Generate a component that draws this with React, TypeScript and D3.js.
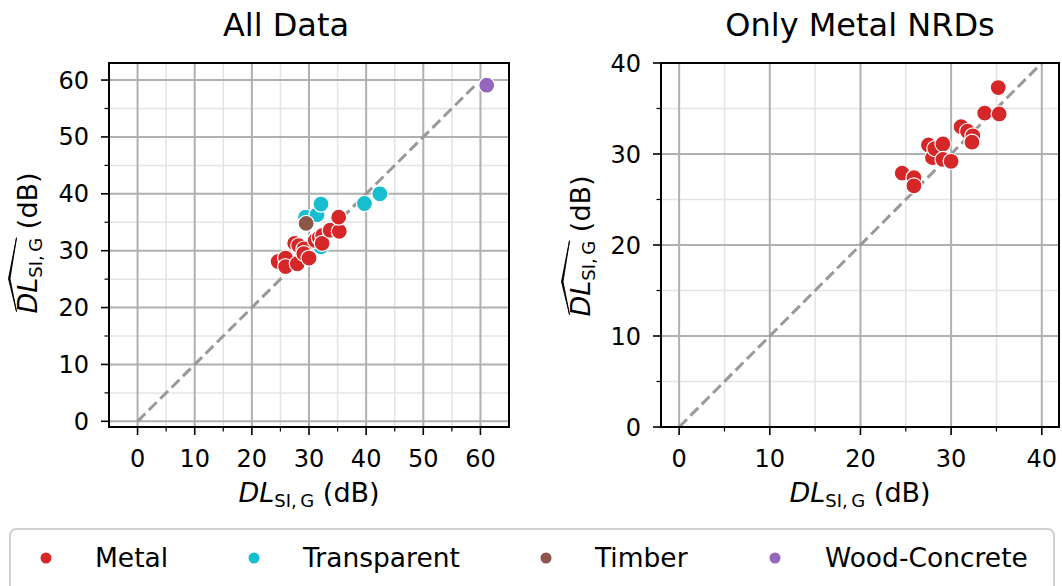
import React, { useEffect, useRef } from 'react';
import * as d3 from 'd3';

// measured values (x axis), shared by both panels
const metalMeasured = [24.6, 25.9, 25.9, 27.5, 27.95, 28.2, 29.1, 29.1, 30.0, 31.1, 31.8, 32.4, 32.3, 33.7, 35.3, 35.2];
// predictions of the model trained on all data
const metalPredAll = [28.1, 28.7, 27.2, 31.3, 27.7, 30.9, 30.3, 29.5, 28.7, 31.8, 32.3, 32.7, 31.3, 33.6, 33.4, 35.9];
// predictions of the model trained on metal only
const metalPredMetal = [27.9, 27.4, 26.5, 31.0, 29.6, 30.6, 31.1, 29.4, 29.2, 33.0, 32.5, 32.0, 31.3, 34.5, 34.4, 37.3];

const transparentMeasured = [29.4, 31.4, 32.1, 32.1, 39.7, 42.4];
const transparentPred = [35.9, 36.3, 38.2, 30.7, 38.3, 40.0];

const timberMeasured = [29.5];
const timberPred = [34.8];

const woodMeasured = [61.1];
const woodPred = [59.1];

const legendLabels = ['Metal', 'Transparent', 'Timber', 'Wood-Concrete'];
const allTicks = [0, 10, 20, 30, 40, 50, 60];
const allMinor = [5, 15, 25, 35, 45, 55];
const metalTicks = [0, 10, 20, 30, 40];
const metalMinor = [5, 15, 25, 35];

const COLORS = {
    Metal: '#d62728',
    Transparent: '#17becf',
    Timber: '#8c564b',
    'Wood-Concrete': '#9467bd',
};

const FONT = 'DejaVu Sans, sans-serif';
const LABEL_SIZE = 27;
const SUB_SIZE = 18;

function zip(xs, ys)
{
    return xs.map((v, i) => [v, ys[i]]);
}

function labelText(parent)
{
    const t = parent.append('text')
        .attr('text-anchor', 'middle')
        .attr('font-family', FONT).attr('font-size', LABEL_SIZE);
    t.append('tspan').attr('font-style', 'italic').text('DL');
    t.append('tspan').attr('font-size', SUB_SIZE).attr('dy', 5).text('SI,\u2009G');
    t.append('tspan').attr('dy', -5).text('\u00a0(dB)');
    return t;
}

function drawPanel(svg, p)
{
    const x = d3.scaleLinear().domain(p.xDomain).range([p.left, p.right]);
    const y = d3.scaleLinear().domain(p.yDomain).range([p.bottom, p.top]);
    const g = svg.append('g');

    // minor grid
    g.selectAll('.mgx').data(p.minor).join('line')
        .attr('x1', (d) => x(d)).attr('x2', (d) => x(d))
        .attr('y1', p.top).attr('y2', p.bottom)
        .attr('stroke', '#e4e4e4').attr('stroke-width', 1.5);
    g.selectAll('.mgy').data(p.minor).join('line')
        .attr('y1', (d) => y(d)).attr('y2', (d) => y(d))
        .attr('x1', p.left).attr('x2', p.right)
        .attr('stroke', '#e4e4e4').attr('stroke-width', 1.5);
    // major grid
    g.selectAll('.gx').data(p.ticks).join('line')
        .attr('x1', (d) => x(d)).attr('x2', (d) => x(d))
        .attr('y1', p.top).attr('y2', p.bottom)
        .attr('stroke', '#b0b0b0').attr('stroke-width', 2);
    g.selectAll('.gy').data(p.ticks).join('line')
        .attr('y1', (d) => y(d)).attr('y2', (d) => y(d))
        .attr('x1', p.left).attr('x2', p.right)
        .attr('stroke', '#b0b0b0').attr('stroke-width', 2);

    // identity line
    g.append('line')
        .attr('x1', x(0)).attr('y1', y(0))
        .attr('x2', x(p.lineEnd)).attr('y2', y(p.lineEnd))
        .attr('stroke', '#999999').attr('stroke-width', 3)
        .attr('stroke-dasharray', '11 5');

    // points
    p.groups.forEach((grp) =>
    {
        g.selectAll(null).data(grp.points).join('circle')
            .attr('cx', (d) => x(d[0]))
            .attr('cy', (d) => y(d[1]))
            .attr('r', 8)
            .attr('fill', COLORS[grp.name])
            .attr('stroke', 'white')
            .attr('stroke-width', 1.2);
    });

    // frame
    g.append('rect')
        .attr('x', p.left).attr('y', p.top)
        .attr('width', p.right - p.left).attr('height', p.bottom - p.top)
        .attr('fill', 'none').attr('stroke', 'black').attr('stroke-width', 2);

    // ticks
    g.selectAll('.tx').data(p.ticks).join('line')
        .attr('x1', (d) => x(d)).attr('x2', (d) => x(d))
        .attr('y1', p.bottom).attr('y2', p.bottom + 8)
        .attr('stroke', 'black').attr('stroke-width', 1.6);
    g.selectAll('.mtx').data(p.minor).join('line')
        .attr('x1', (d) => x(d)).attr('x2', (d) => x(d))
        .attr('y1', p.bottom).attr('y2', p.bottom + 4.5)
        .attr('stroke', 'black').attr('stroke-width', 1.2);
    g.selectAll('.ty').data(p.ticks).join('line')
        .attr('y1', (d) => y(d)).attr('y2', (d) => y(d))
        .attr('x1', p.left - 8).attr('x2', p.left)
        .attr('stroke', 'black').attr('stroke-width', 1.6);
    g.selectAll('.mty').data(p.minor).join('line')
        .attr('y1', (d) => y(d)).attr('y2', (d) => y(d))
        .attr('x1', p.left - 4.5).attr('x2', p.left)
        .attr('stroke', 'black').attr('stroke-width', 1.2);

    g.selectAll('.lx').data(p.ticks).join('text')
        .attr('x', (d) => x(d)).attr('y', p.bottom + 40)
        .attr('text-anchor', 'middle')
        .attr('font-family', FONT).attr('font-size', 24)
        .text((d) => d);
    g.selectAll('.ly').data(p.ticks).join('text')
        .attr('x', p.left - 20).attr('y', (d) => y(d) + 8.5)
        .attr('text-anchor', 'end')
        .attr('font-family', FONT).attr('font-size', 24)
        .text((d) => d);

    // title
    g.append('text')
        .attr('x', p.titleX).attr('y', 36)
        .attr('text-anchor', 'middle')
        .attr('font-family', FONT).attr('font-size', 32)
        .text(p.title);

    // x label
    labelText(g)
        .attr('x', (p.left + p.right) / 2)
        .attr('y', p.bottom + 75);

    // y label with a wide hat
    const yg = g.append('g')
        .attr('transform', `translate(${ p.yLabelX },${ p.yLabelY }) rotate(-90)`);
    const yl = labelText(yg).attr('x', 0).attr('y', 0);
    const node = yl.node();
    let x0 = -73;
    let x1 = -3;
    try
    {
        x0 = node.getStartPositionOfChar(0).x;
        x1 = node.getEndPositionOfChar(6).x;
    }
    catch (e)
    {
        // keep estimates
    }
    const mid = (x0 + x1) / 2 - 3;
    yg.append('path')
        .attr('d', `M${ x0 + 2 },-20.5 L${ mid },-28.5 L${ x1 },-20.5 L${ mid },-27 Z`)
        .attr('fill', 'black').attr('stroke', 'black').attr('stroke-width', 0.9)
        .attr('stroke-linejoin', 'round');
}

function drawLegend(svg)
{
    const g = svg.append('g');
    g.append('rect')
        .attr('x', 10).attr('y', 529).attr('width', 1044).attr('height', 64)
        .attr('rx', 6)
        .attr('fill', 'white').attr('stroke', '#d0d0d0').attr('stroke-width', 2);
    const markerX = [46, 254, 546, 775];
    const textX = [95, 303, 595, 825];
    legendLabels.forEach((name, i) =>
    {
        g.append('circle')
            .attr('cx', markerX[i]).attr('cy', 558).attr('r', 5.5)
            .attr('fill', COLORS[name]);
        g.append('text')
            .attr('x', textX[i]).attr('y', 567)
            .attr('font-family', FONT).attr('font-size', 26.5)
            .text(name);
    });
}

export default function App()
{
    const svgRef = useRef(null);

    useEffect(() =>
    {
        const svg = d3.select(svgRef.current);
        svg.selectAll('*').remove();

        drawPanel(svg, {
            left: 109, right: 509, top: 63, bottom: 427,
            xDomain: [-5, 65], yDomain: [-1, 63],
            ticks: allTicks, minor: allMinor,
            title: 'All Data', titleX: 286, yLabelX: 37, yLabelY: 243,
            lineEnd: 59.1,
            groups: [
                { name: 'Transparent', points: zip(transparentMeasured, transparentPred) },
                { name: 'Metal', points: zip(metalMeasured, metalPredAll) },
                { name: 'Timber', points: zip(timberMeasured, timberPred) },
                { name: 'Wood-Concrete', points: zip(woodMeasured, woodPred) },
            ],
        });

        drawPanel(svg, {
            left: 661, right: 1059, top: 63, bottom: 427,
            xDomain: [-2, 41.9], yDomain: [0, 40],
            ticks: metalTicks, minor: metalMinor,
            title: 'Only Metal NRDs', titleX: 860, yLabelX: 590, yLabelY: 246,
            lineEnd: 40,
            groups: [
                { name: 'Metal', points: zip(metalMeasured, metalPredMetal) },
            ],
        });

        drawLegend(svg);
    }, []);

    return (
        <svg
            ref={ svgRef }
            width={ 1062 }
            height={ 586 }
            style={ { position: 'absolute', left: 0, top: 0, background: 'white' } }
        />
    );
}
